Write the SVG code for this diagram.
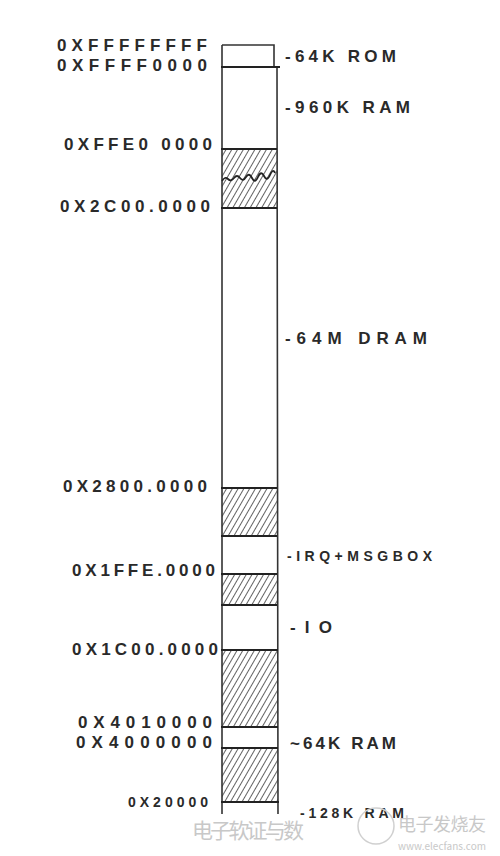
<svg xmlns="http://www.w3.org/2000/svg" width="500" height="856" viewBox="0 0 500 856">
<style>
.addr{font-family:"Liberation Sans",Arial,sans-serif;font-size:17px;fill:#2a2a2a;font-weight:bold}
.lbl{font-family:"Liberation Sans",Arial,sans-serif;font-size:17px;fill:#2a2a2a;font-weight:bold}
.edge{stroke:#333;stroke-width:1.6;fill:none}
.bound{stroke:#222;stroke-width:2.2;fill:none}
.wm{font-family:"Noto Sans CJK SC","Liberation Sans",sans-serif;fill:#c8c8c8}
</style>
<defs>
<pattern id="hatch" patternUnits="userSpaceOnUse" width="5" height="5" patternTransform="rotate(30)">
<rect width="5" height="5" fill="#fff"/>
<line x1="0" y1="0" x2="0" y2="5" stroke="#3a3a3a" stroke-width="1.6"/>
</pattern>
</defs>
<rect width="500" height="856" fill="#fff"/>
<g id="column">
<rect id="hatch-top" x="222" y="149" width="55" height="59" fill="url(#hatch)"/>
<rect id="hatch-2800" x="222" y="488" width="55" height="48" fill="url(#hatch)"/>
<rect id="hatch-1ffe" x="222" y="574" width="55" height="31" fill="url(#hatch)"/>
<rect id="hatch-1c00" x="222" y="650" width="56" height="77" fill="url(#hatch)"/>
<rect id="hatch-4000" x="222" y="748" width="56" height="54" fill="url(#hatch)"/>
<path class="edge" d="M222,45 L274,45 L274,67 M222,45 L222,814 M277,67 L278,814"/>
<path class="bound" d="M221,67 L280,67 M221,149 L277,149 M221,208 L277,208 M221,488 L277,488 M221,536 L277,536 M221,574 L277,574 M221,605 L277,605 M221,650 L278,650 M221,727 L278,727 M221,748 L278,748 M221,802 L279,802"/>
<path d="M222,181 q3,-5 6,-2 t6,-1 t6,0 t6,-1 t6,1 t6,-1 t6,-1 t6,-1 t5,-2" stroke="#222" stroke-width="1.8" fill="none"/>
</g>
<g id="addresses">
<text class="addr" x="57" y="51" textLength="150" lengthAdjust="spacing">0XFFFFFFFF</text>
<text class="addr" x="57" y="71" textLength="150" lengthAdjust="spacing">0XFFFF0000</text>
<text class="addr" x="64" y="150" textLength="148" lengthAdjust="spacing">0XFFE0 0000</text>
<text class="addr" x="60" y="212" textLength="150" lengthAdjust="spacing">0X2C00.0000</text>
<text class="addr" x="63" y="492" textLength="144" lengthAdjust="spacing">0X2800.0000</text>
<text class="addr" x="72" y="576" textLength="143" lengthAdjust="spacing">0X1FFE.0000</text>
<text class="addr" x="72" y="655" textLength="146" lengthAdjust="spacing">0X1C00.0000</text>
<text class="addr" x="78" y="728" textLength="134" lengthAdjust="spacing">0X4010000</text>
<text class="addr" x="76" y="748" textLength="136" lengthAdjust="spacing">0X4000000</text>
<text class="addr" x="128" y="807" style="font-size:14px" textLength="80" lengthAdjust="spacing">0X20000</text>
</g>
<g id="labels">
<text class="lbl" x="285" y="62" textLength="111" lengthAdjust="spacing">-64K ROM</text>
<text class="lbl" x="285" y="113" textLength="125" lengthAdjust="spacing">-960K RAM</text>
<text class="lbl" x="285" y="344" textLength="142" lengthAdjust="spacing">-64M DRAM</text>
<text class="lbl" x="287" y="561" style="font-size:14px" textLength="145" lengthAdjust="spacing">-IRQ+MSGBOX</text>
<text class="lbl" x="290" y="633" textLength="42" lengthAdjust="spacing">-IO</text>
<text class="lbl" x="290" y="749" textLength="106" lengthAdjust="spacing">~64K RAM</text>
<text class="lbl" x="300" y="818" style="font-size:14px" textLength="104" lengthAdjust="spacing">-128K RAM</text>
</g>
<g id="watermark">
<text class="wm" x="192" y="838" style="font-size:21px" textLength="112" lengthAdjust="spacing">电子软证与数</text>
<circle cx="376" cy="826" r="18" fill="none" stroke="#d0d0d0" stroke-width="1.5"/>
<text class="wm" x="398" y="831" style="font-size:18px" textLength="88" lengthAdjust="spacing">电子发烧友</text>
<text class="wm" x="398" y="850" style="font-size:10px" textLength="88" lengthAdjust="spacing">www.elecfans.com</text>
</g>
</svg>
